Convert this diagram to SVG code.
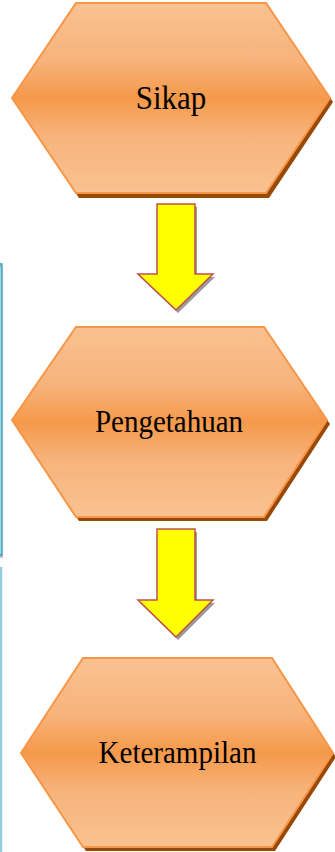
<svg xmlns="http://www.w3.org/2000/svg" width="335" height="852" viewBox="0 0 335 852">
<defs>
<linearGradient id="hexg" x1="0" y1="0" x2="0" y2="1">
<stop offset="0" stop-color="#f9c291"/>
<stop offset="0.3" stop-color="#f7b37c"/>
<stop offset="0.5" stop-color="#f5994a"/>
<stop offset="0.7" stop-color="#f7b37c"/>
<stop offset="1" stop-color="#f9c291"/>
</linearGradient>
<style>
.hex{fill:url(#hexg);stroke:#f79646;stroke-width:2;stroke-linejoin:miter}
.hexsh{fill:#984807}
.lbl{font-family:"Liberation Serif","Times New Roman",serif;fill:#000;text-anchor:middle}
.arr{fill:#ffff00;stroke:#c0504d;stroke-width:1.5;stroke-linejoin:miter}
.arrsh{fill:#9a9a9a}
</style>
</defs>
<rect width="335" height="852" fill="#ffffff"/>
<g id="side-frames">
<rect x="-50" y="266" width="52" height="291" fill="none" stroke="#b0b0b0" stroke-width="1.5"/>
<rect x="-50" y="264" width="51.5" height="291" fill="none" stroke="#4bacc6" stroke-width="2"/>
<line x1="1" y1="567" x2="1" y2="852" stroke="#92cddc" stroke-width="2.5"/>
</g>
<g id="node-sikap">
<polygon class="hexsh" points="15,102 79,7 269,7 333,102 269,198 79,198"/>
<polygon class="hex" points="12,98 76,3 266,3 330,98 266,193 76,193"/>
<text class="lbl" transform="translate(171,109) scale(1,1.08)" font-size="31">Sikap</text>
</g>
<g id="node-pengetahuan">
<polygon class="hexsh" points="15,424 79,331 267,331 330,424 267,521 79,521"/>
<polygon class="hex" points="12,420 76,327 264,327 327,420 264,517 76,517"/>
<text class="lbl" transform="translate(169,432) scale(1,1.06)" font-size="29">Pengetahuan</text>
</g>
<g id="node-keterampilan">
<polygon class="hexsh" points="24,757 86,662 275,662 336,757 275,851 86,851"/>
<polygon class="hex" points="21,753 83,658 272,658 333,753 272,847 83,847"/>
<text class="lbl" transform="translate(177.5,763) scale(1,1.06)" font-size="29">Keterampilan</text>
</g>
<g id="connectors">
<polygon class="arrsh" points="159,207 197,207 197,277 215,277 178,313 140,277 159,277"/>
<polygon class="arr" points="157,204 195,204 195,274 213,274 176,310 138,274 157,274"/>
<polygon class="arrsh" points="159,532 197,532 197,603 215,603 178,640 140,603 159,603"/>
<polygon class="arr" points="157,529 195,529 195,600 213,600 176,637 138,600 157,600"/>
</g>
</svg>
